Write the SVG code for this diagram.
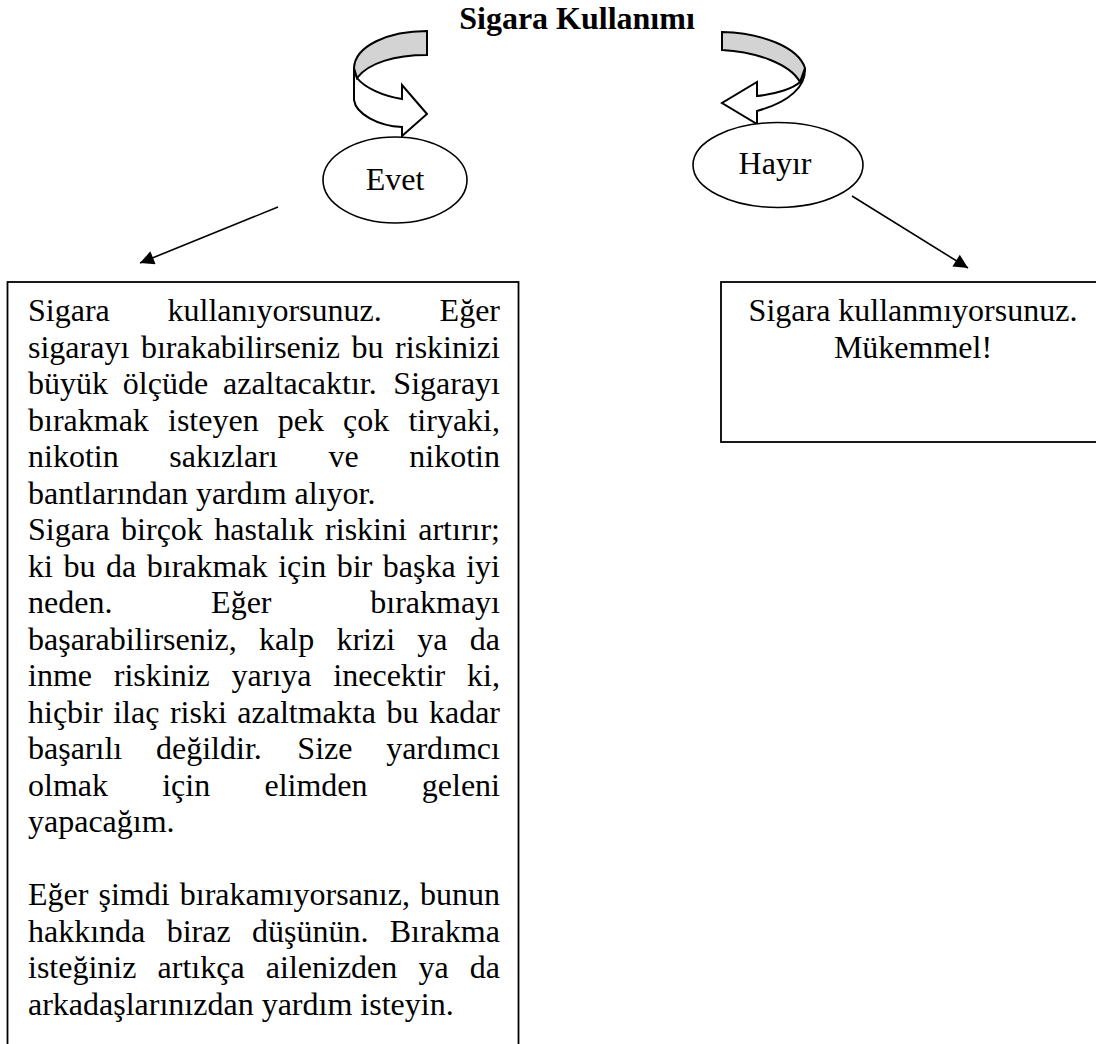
<svg xmlns="http://www.w3.org/2000/svg" width="1096" height="1044" viewBox="0 0 1096 1044">
<style>
.t{font-family:"Liberation Serif","Times New Roman",serif;font-size:32px;fill:#000}
.title{font-weight:bold}
.shape{fill:#fff;stroke:#000;stroke-width:1.6}
.box{fill:#fff;stroke:#000;stroke-width:1.8}
.ca{stroke:#000;stroke-width:2;stroke-linejoin:miter}
.conn{stroke:#000;stroke-width:1.6;fill:none}
</style>
<defs>
<marker id="ah" viewBox="0 0 10 10" refX="10" refY="5" markerWidth="18" markerHeight="14" markerUnits="userSpaceOnUse" orient="auto"><path d="M0,0 L10,5 L0,10 Z" fill="#000"/></marker>
</defs>
<rect width="1096" height="1044" fill="#fff"/>

<g id="title"><text class="t title" x="577" y="29" text-anchor="middle">Sigara Kullanımı</text></g>

<g id="curved-arrow-left">
<path class="ca" fill="#fff" d="M354,68 L354,100 C356,114 378,126 402,127 L402,136 L427,114 L402,85 L402,99 C383,96 365,88 357,78 Z"/>
<path class="ca" fill="#d3d3d3" d="M427,31 C388,31 355,46 354,68 L357,78 C368,63 395,55 427,55 Z"/>
</g>
<g id="curved-arrow-right">
<path class="ca" fill="#fff" d="M805,68 C806,86 790,102 757,111 L757,124 L722,103 L757,82 L757,96 C777,94 794,88 800,82 Z"/>
<path class="ca" fill="#d3d3d3" d="M722,32 C762,33 798,47 805,68 L800,82 C790,64 757,52 722,50 Z"/>
</g>

<g id="evet">
<ellipse class="shape" cx="395" cy="180" rx="72" ry="43"/>
<text class="t" x="395" y="190" text-anchor="middle">Evet</text>
</g>
<g id="hayir">
<ellipse class="shape" cx="778" cy="165" rx="85" ry="42.5"/>
<text class="t" x="775" y="174" text-anchor="middle">Hayır</text>
</g>

<g id="connectors">
<line class="conn" x1="278" y1="207" x2="140" y2="263" marker-end="url(#ah)"/>
<line class="conn" x1="852" y1="196" x2="968" y2="268" marker-end="url(#ah)"/>
</g>

<g id="box-yes">
<rect class="box" x="7.5" y="282" width="511" height="800"/>
<text class="t">
<tspan x="28" y="321">Sigara</tspan><tspan x="167.57" y="321">kullanıyorsunuz.</tspan><tspan x="439.59" y="321">Eğer</tspan>
<tspan x="28" y="357.5">sigarayı</tspan><tspan x="140.88" y="357.5">bırakabilirseniz</tspan><tspan x="351.52" y="357.5">bu</tspan><tspan x="395.09" y="357.5">riskinizi</tspan>
<tspan x="28" y="394">büyük</tspan><tspan x="122.85" y="394">ölçüde</tspan><tspan x="223.01" y="394">azaltacaktır.</tspan><tspan x="393.35" y="394">Sigarayı</tspan>
<tspan x="28" y="430.5">bırakmak</tspan><tspan x="167.99" y="430.5">isteyen</tspan><tspan x="277.78" y="430.5">pek</tspan><tspan x="343.12" y="430.5">çok</tspan><tspan x="408.46" y="430.5">tiryaki,</tspan>
<tspan x="28" y="467">nikotin</tspan><tspan x="169.35" y="467">sakızları</tspan><tspan x="328.43" y="467">ve</tspan><tspan x="409.3" y="467">nikotin</tspan>
<tspan x="28" y="503.5">bantlarından yardım alıyor.</tspan>
<tspan x="28" y="540">Sigara</tspan><tspan x="121.11" y="540">birçok</tspan><tspan x="214.22" y="540">hastalık</tspan><tspan x="325.12" y="540">riskini</tspan><tspan x="418.26" y="540">artırır;</tspan>
<tspan x="28" y="576.5">ki</tspan><tspan x="63.45" y="576.5">bu</tspan><tspan x="106" y="576.5">da</tspan><tspan x="146.76" y="576.5">bırakmak</tspan><tspan x="278.17" y="576.5">için</tspan><tspan x="336.72" y="576.5">bir</tspan><tspan x="382.82" y="576.5">başka</tspan><tspan x="466.23" y="576.5">iyi</tspan>
<tspan x="28" y="613">neden.</tspan><tspan x="211.12" y="613">Eğer</tspan><tspan x="370.24" y="613">bırakmayı</tspan>
<tspan x="28" y="649.5">başarabilirseniz,</tspan><tspan x="259.08" y="649.5">kalp</tspan><tspan x="336.43" y="649.5">krizi</tspan><tspan x="417.34" y="649.5">ya</tspan><tspan x="469.8" y="649.5">da</tspan>
<tspan x="28" y="686">inme</tspan><tspan x="113.79" y="686">riskiniz</tspan><tspan x="231.58" y="686">yarıya</tspan><tspan x="333.34" y="686">inecektir</tspan><tspan x="467.1" y="686">ki,</tspan>
<tspan x="28" y="722.5">hiçbir</tspan><tspan x="113.17" y="722.5">ilaç</tspan><tspan x="169.89" y="722.5">riski</tspan><tspan x="237.3" y="722.5">azaltmakta</tspan><tspan x="386.43" y="722.5">bu</tspan><tspan x="428.94" y="722.5">kadar</tspan>
<tspan x="28" y="759">başarılı</tspan><tspan x="156" y="759">değildir.</tspan><tspan x="297.34" y="759">Size</tspan><tspan x="386.23" y="759">yardımcı</tspan>
<tspan x="28" y="795.5">olmak</tspan><tspan x="162.23" y="795.5">için</tspan><tspan x="264.46" y="795.5">elimden</tspan><tspan x="421.79" y="795.5">geleni</tspan>
<tspan x="28" y="832">yapacağım.</tspan>
<tspan x="28" y="905">Eğer</tspan><tspan x="98.51" y="905">şimdi</tspan><tspan x="179.74" y="905">bırakamıyorsanız,</tspan><tspan x="420.01" y="905">bunun</tspan>
<tspan x="28" y="941.5">hakkında</tspan><tspan x="166.66" y="941.5">biraz</tspan><tspan x="251.98" y="941.5">düşünün.</tspan><tspan x="389.78" y="941.5">Bırakma</tspan>
<tspan x="28" y="978">isteğiniz</tspan><tspan x="157.59" y="978">artıkça</tspan><tspan x="265.8" y="978">ailenizden</tspan><tspan x="418.46" y="978">ya</tspan><tspan x="469.81" y="978">da</tspan>
<tspan x="28" y="1014.5">arkadaşlarınızdan yardım isteyin.</tspan>
</text>
</g>

<g id="box-no">
<rect class="box" x="721" y="282" width="384" height="160"/>
<text class="t" text-anchor="middle"><tspan x="913" y="321">Sigara kullanmıyorsunuz.</tspan><tspan x="913" y="357.5">Mükemmel!</tspan></text>
</g>
</svg>
